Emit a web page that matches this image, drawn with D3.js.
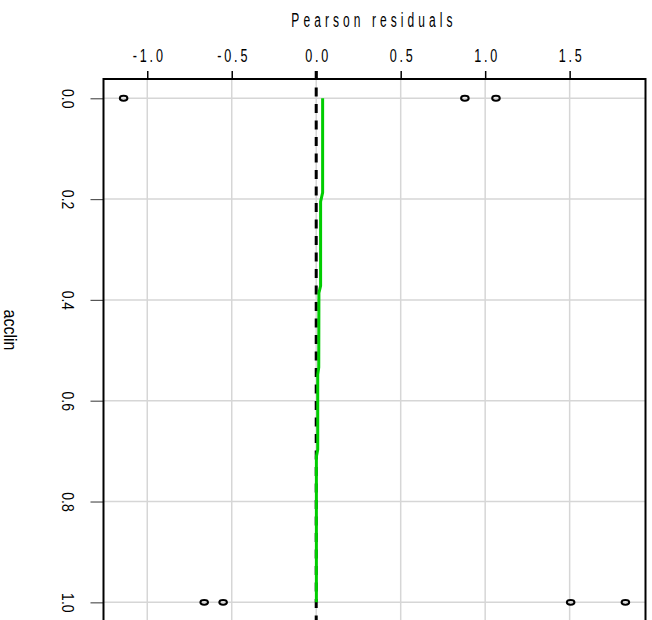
<!DOCTYPE html>
<html>
<head>
<meta charset="utf-8">
<script src="https://cdn.jsdelivr.net/npm/d3@7"></script>
<style>
  body { margin: 0; background: #fff; }
  svg { display: block; }
  .lab { font-family: "Liberation Sans", Arial, sans-serif; fill: #000; }
</style>
</head>
<body>
<svg id="chart" width="652" height="620"></svg>
<script>
// residual points: acclin level and Pearson residual
const pointAcclin = [0, 0, 0, 1, 1, 1, 1];
const pointResid = [-1.14, 0.88, 1.064, -0.663, -0.551, 1.506, 1.83];

// smoother (green)
const smoothAcclin = [0, 0.187, 0.205, 0.372, 0.386, 0.534, 0.548, 0.697, 0.711, 1];
const smoothResid = [0.038, 0.038, 0.026, 0.026, 0.016, 0.015, 0.009, 0.009, 0.001, 0.001];

const xTicks = [-1, -0.5, 0, 0.5, 1, 1.5];
const yTicks = [0, 0.2, 0.4, 0.6, 0.8, 1];

const svg = d3.select("#chart");
const plotLeft = 103.5, plotRight = 645.5, plotTop = 79;

const x = d3.scaleLinear().domain([-1.259, 1.949]).range([plotLeft, plotRight]);
const y = d3.scaleLinear().domain([-0.04, 1.04]).range([78.1, 622.5]);

// grid
svg.append("g").selectAll("line").data(xTicks).join("line")
  .attr("x1", (d) => x(d)).attr("x2", (d) => x(d))
  .attr("y1", plotTop).attr("y2", 620)
  .attr("stroke", "#d6d6d6").attr("stroke-width", 1.5);
svg.append("g").selectAll("line").data(yTicks).join("line")
  .attr("x1", plotLeft).attr("x2", plotRight)
  .attr("y1", (d) => y(d)).attr("y2", (d) => y(d))
  .attr("stroke", "#d6d6d6").attr("stroke-width", 1.5);

// top axis, labels are tall and narrow with wide letter spacing
const xAxis = svg.append("g").attr("transform", `translate(0,${plotTop})`)
  .call(d3.axisTop(x).tickValues(xTicks).tickSize(8).tickFormat((d) => d.toFixed(1)));
xAxis.select(".domain").remove();
xAxis.selectAll("line").attr("stroke", "#000").attr("stroke-width", 1.5);
xAxis.selectAll("text").attr("class", "lab")
  .attr("y", null).attr("dy", null)
  .attr("transform", "translate(1.5,-17) scale(0.7,1)")
  .style("font-size", "18px").style("letter-spacing", "4px");

// left axis, labels turned to read downwards
const yAxis = svg.append("g").attr("transform", `translate(${plotLeft},0)`)
  .call(d3.axisLeft(y).tickValues(yTicks).tickSize(13).tickFormat((d) => d.toFixed(1)));
yAxis.select(".domain").remove();
yAxis.selectAll("line").attr("stroke", "#555").attr("stroke-width", 1.2);
yAxis.selectAll("text").attr("class", "lab")
  .attr("x", null).attr("dy", null)
  .attr("text-anchor", "middle")
  .attr("dominant-baseline", "central")
  .attr("transform", `translate(${68 - plotLeft},0) rotate(90) scale(1,1.15)`)
  .style("font-size", "14px");

// box
svg.append("path")
  .attr("d", `M${plotLeft},625V${plotTop}H${plotRight}V625`)
  .attr("fill", "none").attr("stroke", "#000").attr("stroke-width", 2);

// titles
svg.append("text").attr("class", "lab")
  .attr("transform", "translate(374,27) scale(0.6,1)")
  .attr("text-anchor", "middle")
  .style("font-size", "20px").style("letter-spacing", "6.8px")
  .text("Pearson residuals");
svg.append("text").attr("class", "lab")
  .attr("transform", "translate(10,330) rotate(90) scale(1,1.15)")
  .attr("text-anchor", "middle").attr("dominant-baseline", "central")
  .style("font-size", "16px")
  .text("acclin");

// reference line at 0
svg.append("line")
  .attr("x1", x(0)).attr("x2", x(0)).attr("y1", 71).attr("y2", 620)
  .attr("stroke", "#000").attr("stroke-width", 3).attr("stroke-dasharray", "9,7.5");

// smoother
const line = d3.line().x((d) => x(d[1])).y((d) => y(d[0]));
svg.append("path")
  .datum(smoothAcclin.map((a, i) => [a, smoothResid[i]]))
  .attr("d", line)
  .attr("fill", "none").attr("stroke", "#00cd00").attr("stroke-width", 3);

// points
svg.append("g").selectAll("ellipse").data(pointResid).join("ellipse")
  .attr("cx", (d) => x(d)).attr("cy", (d, i) => y(pointAcclin[i]))
  .attr("rx", 3.8).attr("ry", 2.4)
  .attr("fill", "none").attr("stroke", "#000").attr("stroke-width", 2);
</script>
</body>
</html>
